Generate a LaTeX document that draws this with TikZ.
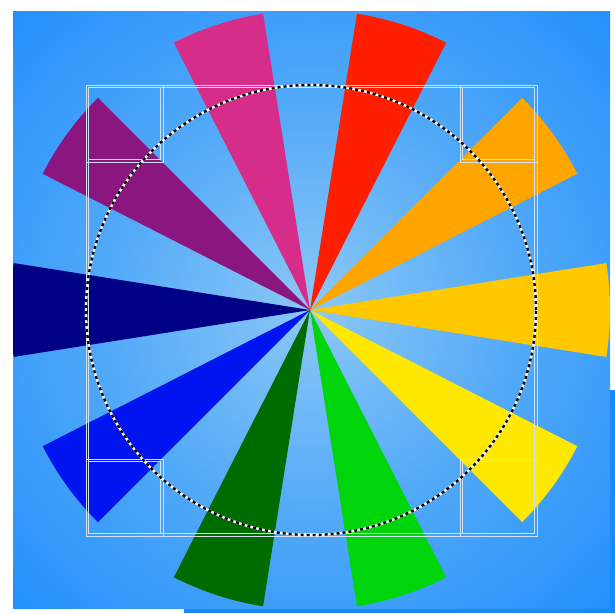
\documentclass[tikz,border=0pt]{standalone}
\usetikzlibrary{calc}
\definecolor{bgin}{RGB}{140,200,246}
\definecolor{bgmid}{RGB}{80,168,248}
\definecolor{bgout}{RGB}{24,138,253}
\definecolor{cred}{RGB}{255,30,0}
\definecolor{cpink}{RGB}{214,44,138}
\definecolor{cpurple}{RGB}{140,22,128}
\definecolor{cnavy}{RGB}{0,0,135}
\definecolor{cblue}{RGB}{0,20,240}
\definecolor{cdgreen}{RGB}{0,108,0}
\definecolor{cgreen}{RGB}{0,212,10}
\definecolor{cyellow}{RGB}{255,232,0}
\definecolor{cgold}{RGB}{255,200,0}
\definecolor{corange}{RGB}{255,165,0}
\definecolor{frame}{RGB}{210,225,242}
\pgfdeclareradialshading{bgshade}{\pgfpoint{0bp}{0bp}}{color(0bp)=(bgin); color(18bp)=(bgmid); color(40bp)=(bgout); color(75bp)=(bgout)}
\tikzset{
  frameline/.style={draw=frame, line width=0.9pt},
  wedgefill/.style={fill=#1},
}
\begin{document}
\begin{tikzpicture}[x=1pt,y=1pt]
\useasboundingbox (0,0) rectangle (615,613);
% background
\fill[bgout] (610,0) rectangle (615,223);
\fill[bgout] (184,0) rectangle (615,5);
\shade[shading=bgshade] (13,5) rectangle (610,601);
\coordinate (c) at (310,303);
\begin{scope}
\clip (13,5) rectangle (610,601);
\foreach \a/\col in {72/cred,36/corange,0/cgold,-36/cyellow,-72/cgreen,-108/cdgreen,-144/cblue,180/cnavy,144/cpurple,108/cpink}{
  \fill[wedgefill=\col] (c) -- ($(c)+(\a-9:300pt)$) arc[start angle=\a-9, end angle=\a+9, radius=300pt] -- cycle;
}
\end{scope}
% frame square (double lines)
\foreach \xa/\ya/\xb/\yb in {86/77/537/528, 86/451/163/528, 460/451/537/528, 86/77/163/154, 460/77/537/154}{
  \draw[frameline] (\xa,\ya) rectangle (\xb,\yb);
  \draw[frameline] (\xa+2.6,\ya+2.6) rectangle (\xb-2.6,\yb-2.6);
}
% dashed circle
\node[circle, minimum size=450pt, inner sep=0pt, draw=white, line width=2.4pt] (ring) at (311,303) {};
\draw[black, line width=2.4pt, dash pattern=on 3pt off 3pt] (ring.center) circle[radius=225pt];
\end{tikzpicture}
\end{document}
